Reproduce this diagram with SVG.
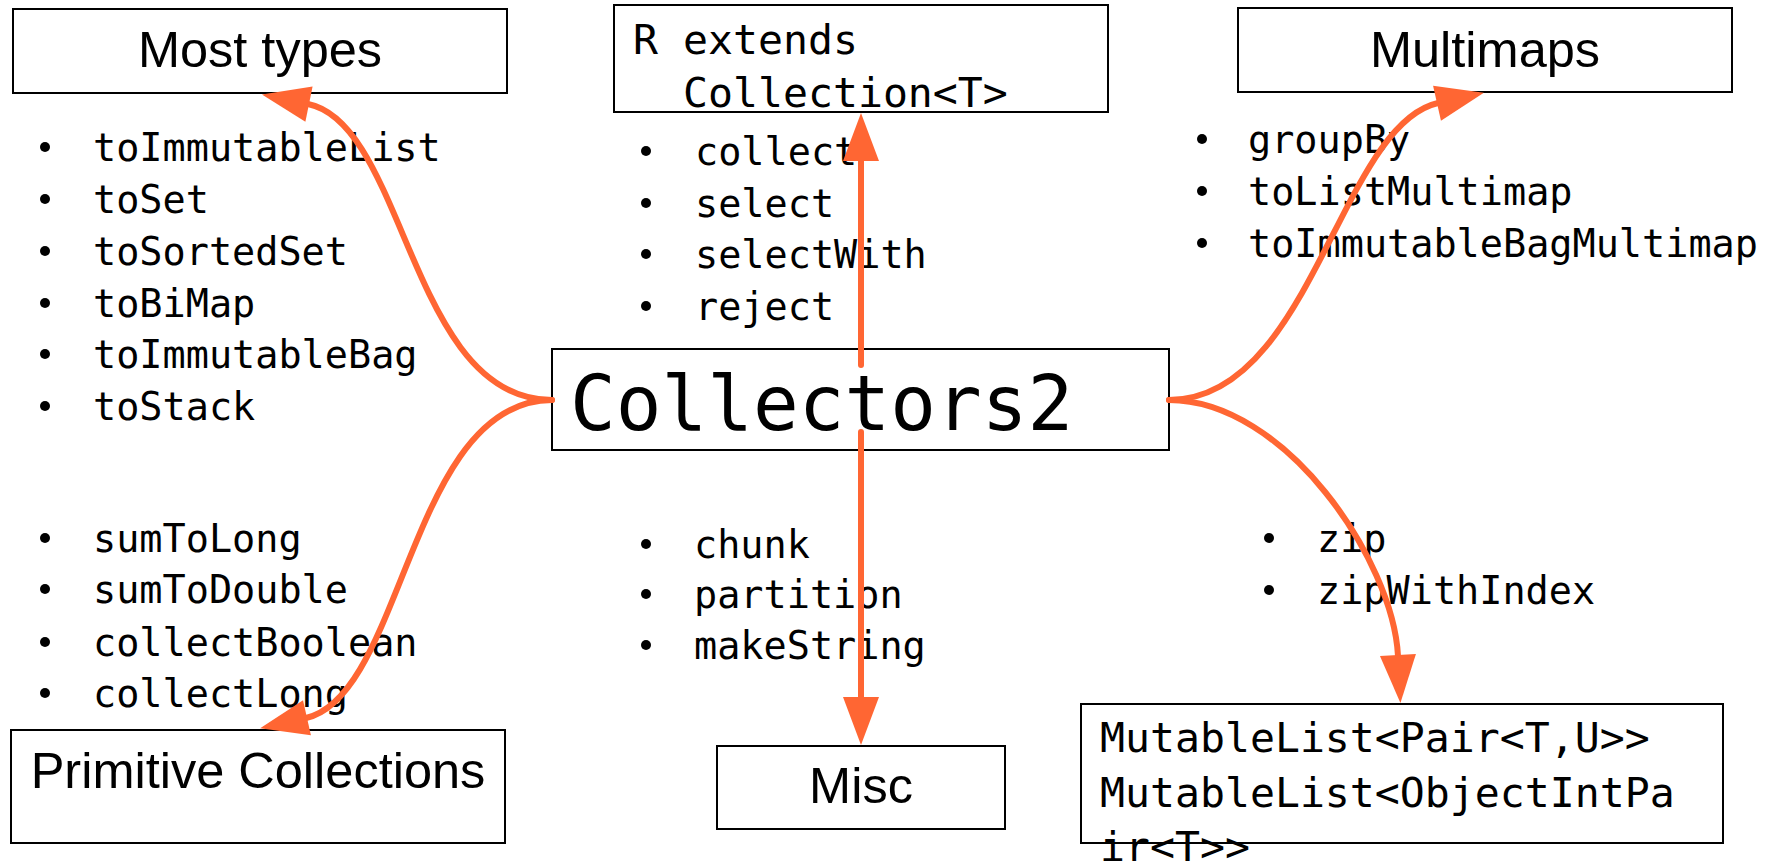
<svg xmlns="http://www.w3.org/2000/svg" width="1768" height="862" viewBox="0 0 1768 862">
  <style>
    .box { fill: #ffffff; stroke: #000000; stroke-width: 2; }
    .label { font-family: "Liberation Sans", Arial, sans-serif; font-size: 50.5px; fill: #000000; text-anchor: middle; }
    .mono { font-family: "DejaVu Sans Mono", "Liberation Mono", monospace; fill: #000000; }
    .item { font-size: 38.5px; }
    .code { font-size: 41.5px; }
    .big { font-size: 76px; }
    .dot { fill: #000000; }
    .link { fill: none; stroke: #ff6633; stroke-width: 6; stroke-linecap: round; marker-end: url(#arrow); }
  </style>
  <defs>
    <marker id="arrow" markerUnits="userSpaceOnUse" markerWidth="48" markerHeight="36" viewBox="0 0 48 36" refX="1" refY="18" orient="auto" overflow="visible">
      <path d="M0,0 L48,18 L0,36 Z" fill="#ff6633"/>
    </marker>
  </defs>

  <rect width="1768" height="862" fill="#ffffff"/>

  <!-- category boxes -->
  <g id="most-types">
    <rect class="box" x="13" y="9" width="494" height="84"/>
    <text class="label" x="260" y="67">Most types</text>
  </g>
  <g id="collection">
    <rect class="box" x="614" y="5" width="494" height="107"/>
    <text class="mono code" x="633" y="54">R extends</text>
    <text class="mono code" x="683" y="107">Collection&lt;T&gt;</text>
  </g>
  <g id="multimaps">
    <rect class="box" x="1238" y="8" width="494" height="84"/>
    <text class="label" x="1485" y="67">Multimaps</text>
  </g>
  <g id="collectors2">
    <rect class="box" x="552" y="349" width="617" height="101"/>
    <text class="mono big" x="570" y="430">Collectors2</text>
  </g>
  <g id="primitive-collections">
    <rect class="box" x="11" y="730" width="494" height="113"/>
    <text class="label" x="258" y="788">Primitive Collections</text>
  </g>
  <g id="misc">
    <rect class="box" x="717" y="746" width="288" height="83"/>
    <text class="label" x="861" y="803">Misc</text>
  </g>
  <g id="mutable-list">
    <rect class="box" x="1081" y="704" width="642" height="139"/>
    <text class="mono code" x="1100" y="752">MutableList&lt;Pair&lt;T,U&gt;&gt;</text>
    <text class="mono code" x="1100" y="807">MutableList&lt;ObjectIntPa</text>
    <text class="mono code" x="1100" y="861">ir&lt;T&gt;&gt;</text>
  </g>

  <!-- method lists -->
  <g id="list-most-types">
    <circle class="dot" cx="45" cy="147" r="5"/>
    <circle class="dot" cx="45" cy="199" r="5"/>
    <circle class="dot" cx="45" cy="251" r="5"/>
    <circle class="dot" cx="45" cy="303" r="5"/>
    <circle class="dot" cx="45" cy="354" r="5"/>
    <circle class="dot" cx="45" cy="406" r="5"/>
    <text class="mono item" x="93" y="161">toImmutableList</text>
    <text class="mono item" x="93" y="213">toSet</text>
    <text class="mono item" x="93" y="265">toSortedSet</text>
    <text class="mono item" x="93" y="317">toBiMap</text>
    <text class="mono item" x="93" y="368">toImmutableBag</text>
    <text class="mono item" x="93" y="420">toStack</text>
  </g>
  <g id="list-collection">
    <circle class="dot" cx="646" cy="151" r="5"/>
    <circle class="dot" cx="646" cy="203" r="5"/>
    <circle class="dot" cx="646" cy="254" r="5"/>
    <circle class="dot" cx="646" cy="306" r="5"/>
    <text class="mono item" x="695" y="165">collect</text>
    <text class="mono item" x="695" y="217">select</text>
    <text class="mono item" x="695" y="268">selectWith</text>
    <text class="mono item" x="695" y="320">reject</text>
  </g>
  <g id="list-multimaps">
    <circle class="dot" cx="1202" cy="139" r="5"/>
    <circle class="dot" cx="1202" cy="191" r="5"/>
    <circle class="dot" cx="1202" cy="243" r="5"/>
    <text class="mono item" x="1248" y="153">groupBy</text>
    <text class="mono item" x="1248" y="205">toListMultimap</text>
    <text class="mono item" x="1248" y="257">toImmutableBagMultimap</text>
  </g>
  <g id="list-primitive">
    <circle class="dot" cx="45" cy="538" r="5"/>
    <circle class="dot" cx="45" cy="589" r="5"/>
    <circle class="dot" cx="45" cy="642" r="5"/>
    <circle class="dot" cx="45" cy="693" r="5"/>
    <text class="mono item" x="93" y="552">sumToLong</text>
    <text class="mono item" x="93" y="603">sumToDouble</text>
    <text class="mono item" x="93" y="656">collectBoolean</text>
    <text class="mono item" x="93" y="707">collectLong</text>
  </g>
  <g id="list-misc">
    <circle class="dot" cx="646" cy="544" r="5"/>
    <circle class="dot" cx="646" cy="594" r="5"/>
    <circle class="dot" cx="646" cy="645" r="5"/>
    <text class="mono item" x="694" y="558">chunk</text>
    <text class="mono item" x="694" y="608">partition</text>
    <text class="mono item" x="694" y="659">makeString</text>
  </g>
  <g id="list-zip">
    <circle class="dot" cx="1269" cy="538" r="5"/>
    <circle class="dot" cx="1269" cy="590" r="5"/>
    <text class="mono item" x="1317" y="552">zip</text>
    <text class="mono item" x="1317" y="604">zipWithIndex</text>
  </g>

  <!-- connectors from Collectors2 to each category -->
  <g id="connectors">
    <path class="link" d="M552,400 C410,400 406,124 308,104"/>
    <path class="link" d="M552,400 C410,400 404,696 306,718"/>
    <path class="link" d="M861,365 L861,160"/>
    <path class="link" d="M861,432 L861,698"/>
    <path class="link" d="M1169,400 C1311,400 1340,125 1438,103"/>
    <path class="link" d="M1169,400 C1285,400 1393,560 1398,656"/>
  </g>
</svg>
